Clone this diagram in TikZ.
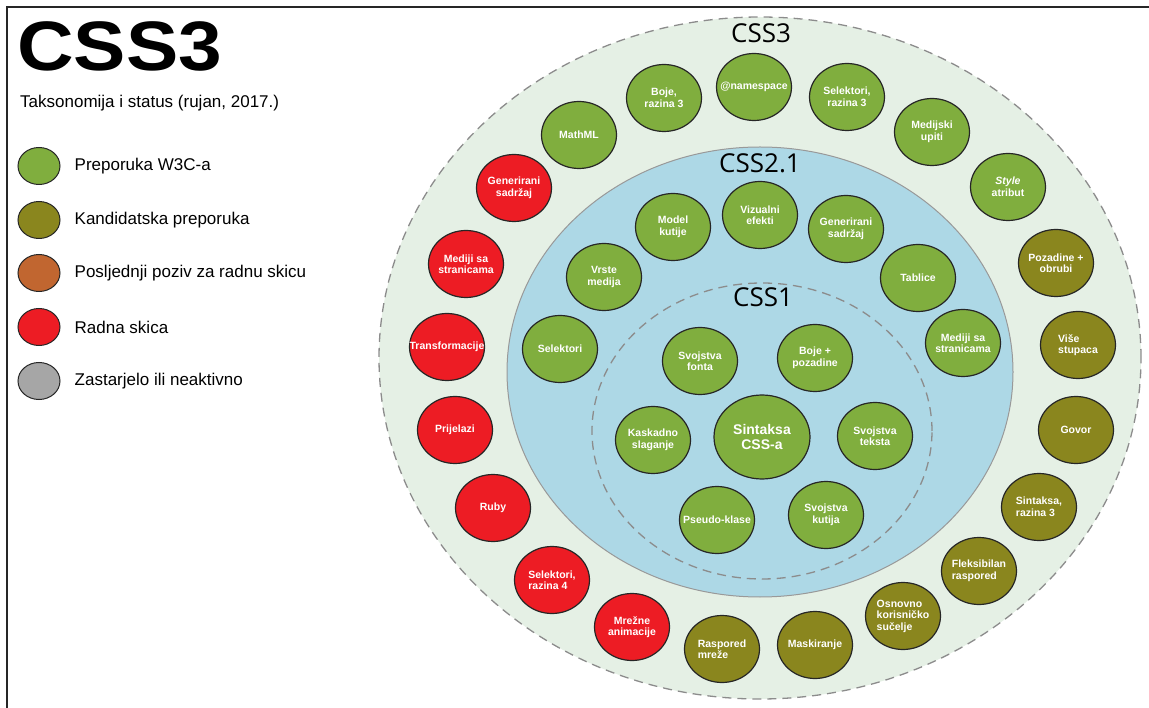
\documentclass[tikz,border=0pt]{standalone}
\usepackage{fontspec}
\setmainfont{Liberation Sans}
\newfontfamily\ringfont{Open Sans}
\usetikzlibrary{shapes.geometric,positioning}
\definecolor{recgreen}{RGB}{128,174,62}
\definecolor{candolive}{RGB}{138,134,30}
\definecolor{lastcall}{RGB}{193,102,48}
\definecolor{draftred}{RGB}{237,28,36}
\definecolor{obsgray}{RGB}{166,166,166}
\definecolor{ringfill}{RGB}{229,240,229}
\definecolor{bluefill}{RGB}{173,216,230}
\tikzstyle{bubble}=[ellipse, draw=black!85, line width=1.2pt, inner sep=0pt, minimum width=75pt, minimum height=67pt]
\tikzstyle{rec}=[bubble, fill=recgreen]
\tikzstyle{cand}=[bubble, fill=candolive]
\tikzstyle{draft}=[bubble, fill=draftred]
\tikzstyle{legdot}=[ellipse, draw=black!85, line width=1pt, inner sep=0pt, minimum width=42pt, minimum height=37pt]
\tikzstyle{legtext}=[inner sep=0pt, font=\fontsize{17}{20}\selectfont]
\tikzstyle{ringlabel}=[inner sep=0pt, font=\ringfont\fontsize{26}{26}\selectfont]
\newcommand{\recnode}{\node[rec]}
\newcommand{\candnode}{\node[cand]}
\newcommand{\draftnode}{\node[draft]}

\begin{document}
\begin{tikzpicture}[x=1pt, y=-1pt,
  every label/.style={text=white, font=\bfseries\fontsize{10.5}{11.5}\selectfont, align=center, inner sep=0pt}]
\useasboundingbox (0,0) rectangle (1149,708);
\draw[line width=2pt, black!85] (1149,7) -- (7,7) -- (7,708);

\node[inner sep=0pt, anchor=west, font=\bfseries\fontsize{70}{70}\selectfont] (title) at (17,46) {\scalebox{1.12}[1]{CSS3}};
\node[inner sep=0pt, anchor=base west, font=\fontsize{17}{19}\selectfont] (sub) at (20,108) {Taksonomija i status (rujan, 2017.)};

\node[legdot, fill=recgreen] (lrec) at (39,166) {};
\node[legdot, fill=candolive] (lcand) at (39,220) {};
\node[legdot, fill=lastcall] (llast) at (39,273) {};
\node[legdot, fill=draftred] (ldraft) at (39,327) {};
\node[legdot, fill=obsgray] (lobs) at (39,381) {};
\node[legtext, right=14pt of lrec] (trec) {Preporuka W3C-a};
\node[legtext, right=14pt of lcand] (tcand) {Kandidatska preporuka};
\node[legtext, right=14pt of llast] (tlast) {Posljednji poziv za radnu skicu};
\node[legtext, right=14pt of ldraft] (tdraft) {Radna skica};
\node[legtext, right=14pt of lobs] (tobs) {Zastarjelo ili neaktivno};

\node[ellipse, draw=black!45, line width=1.3pt, dash pattern=on 9pt off 6pt, fill=ringfill, minimum width=762pt, minimum height=682pt] (css3) at (760,358) {};
\node[ellipse, draw=black!40, line width=1pt, fill=bluefill, minimum width=506pt, minimum height=450pt] (css21) at (760,372) {};
\node[ellipse, draw=black!45, line width=1.3pt, dash pattern=on 9pt off 6pt, minimum width=340pt, minimum height=296pt] (css1) at (762,431) {};
\node[ringlabel] (t3) at (761,33) {CSS3};
\node[ringlabel] (t21) at (760,163) {CSS2.1};
\node[ringlabel] (t1) at (763,297) {CSS1};

\recnode (ns) at (754,87) [label=center:@namespace] {};
\recnode (sel3) at (847,97) [label={center:Selektori,\\razina 3}] {};
\recnode (mq) at (932,132) [label={center:Medijski\\upiti}] {};
\recnode (styleattr) at (1008,187) [label={center:\textit{Style}\\atribut}] {};
\candnode (bgb) at (1056,263) [label={center:Pozadine +\\obrubi}] {};
\candnode (multicol) at (1078,345) [label={[align=left]center:Više\\stupaca}] {};
\candnode (speech) at (1076,430) [label=center:Govor] {};
\candnode (syn3) at (1039,507) [label={[align=left]center:Sintaksa,\\razina 3}] {};
\candnode (flex) at (979,571) [label={[align=left]center:Fleksibilan\\raspored}] {};
\candnode (ui) at (903,616) [label={[align=left]center:Osnovno\\korisničko\\sučelje}] {};
\candnode (mask) at (815,645) [label=center:Maskiranje] {};
\candnode (grid) at (722,649) [label={[align=left]center:Raspored\\mreže}] {};
\draftnode (anim) at (632,627) [label={center:Mrežne\\animacije}] {};
\draftnode (sel4) at (552,580) [label={[align=left]center:Selektori,\\razina 4}] {};
\draftnode (ruby) at (493,508) [label=center:Ruby] {};
\draftnode (trans) at (455,430) [label=center:Prijelazi] {};
\draftnode (transf) at (447,347) [label=center:Transformacije] {};
\draftnode (pm3) at (466,264) [label={center:Mediji sa\\stranicama}] {};
\draftnode (gc3) at (514,188) [label={center:Generirani\\sadržaj}] {};
\recnode (mathml) at (579,135) [label=center:MathML] {};
\recnode (col3) at (664,98) [label={center:Boje,\\razina 3}] {};

\recnode (sel) at (560,349) [label=center:Selektori] {};
\recnode (media) at (604,277) [label={center:Vrste\\medija}] {};
\recnode (boxmodel) at (673,227) [label={center:Model\\kutije}] {};
\recnode (visual) at (760,215) [label={center:Vizualni\\efekti}] {};
\recnode (gc) at (846,229) [label={center:Generirani\\sadržaj}] {};
\recnode (tables) at (918,278) [label=center:Tablice] {};
\recnode (pm) at (963,343) [label={center:Mediji sa\\stranicama}] {};

\recnode (fontprops) at (700,361) [label={center:Svojstva\\fonta}] {};
\recnode (colprops) at (815,358) [label={center:Boje +\\pozadine}] {};
\recnode (cascade) at (653,440) [label={center:Kaskadno\\slaganje}] {};
\recnode (syntax) at (762,437) [minimum width=96pt, minimum height=84pt, label={[font=\bfseries\fontsize{14}{15}\selectfont]center:Sintaksa\\CSS-a}] {};
\recnode (textprops) at (875,436) [label={center:Svojstva\\teksta}] {};
\recnode (pseudo) at (717,520) [label=center:Pseudo-klase] {};
\recnode (boxprops) at (826,515) [label={center:Svojstva\\kutija}] {};
\end{tikzpicture}
\end{document}
